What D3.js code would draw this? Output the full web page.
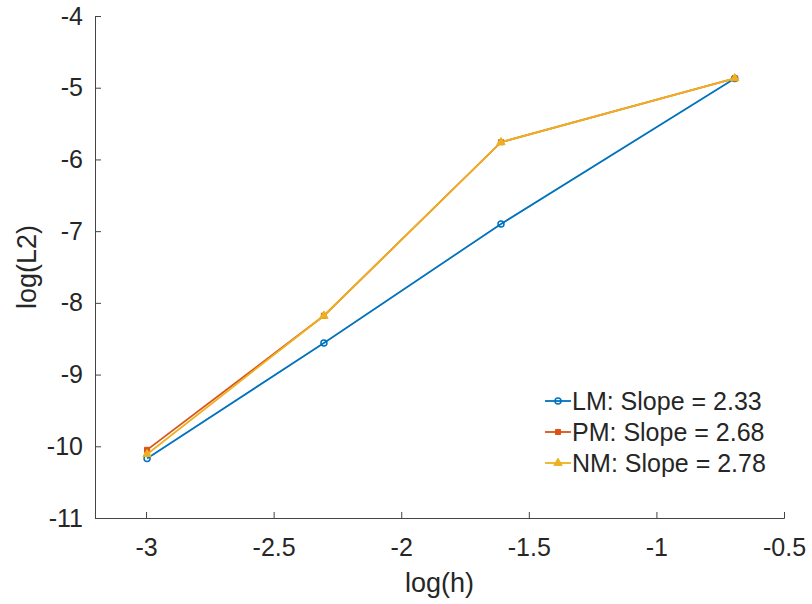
<!DOCTYPE html>
<html>
<head>
<meta charset="utf-8">
<script src="https://cdn.jsdelivr.net/npm/d3@7"></script>
<style>
  body { margin: 0; background: #fff; }
  text { font-family: "Liberation Sans", Arial, sans-serif; fill: #262626; }
</style>
</head>
<body>
<div id="graf"></div>
<script>
// log(h) vs log(L2) convergence plot

// data
logH = [-2.996, -2.303, -1.609, -0.693]
lmVals = [-10.17, -8.56, -6.90, -4.87]
pmVals = [-10.05, -8.18, -5.76, -4.87]
nmVals = [-10.11, -8.18, -5.76, -4.87]
seriesNames = ['LM: Slope = 2.33', 'PM: Slope = 2.68', 'NM: Slope = 2.78']
xTicks = [-3, -2.5, -2, -1.5, -1, -0.5]
yTicks = [-11, -10, -9, -8, -7, -6, -5, -4]

ancho_total = 812
alto_total = 604
margins = { top: 16, left: 95, right: 28, bottom: 86 }
ancho = ancho_total - margins.left - margins.right
alto = alto_total - margins.top - margins.bottom

svg = d3.select('#graf').append('svg')
  .attr('width', ancho_total)
  .attr('height', alto_total)

g = svg.append('g')
  .attr('transform', `translate(${margins.left}, ${margins.top})`)

// Escaladores
x = d3.scaleLinear().domain([-3.2, -0.5]).range([0, ancho])
y = d3.scaleLinear().domain([-11, -4]).range([alto, 0])
colores = ['#0072BD', '#D95319', '#EDB120']

// Ejes
fmt = d => d3.format('')(d).replace('−', '-')
xAxis = g.append('g')
  .attr('transform', `translate(0, ${alto})`)
  .call(d3.axisBottom(x).tickValues(xTicks).tickSize(-6).tickPadding(20).tickFormat(fmt))
yAxis = g.append('g')
  .call(d3.axisLeft(y).tickValues(yTicks).tickSize(-6).tickPadding(12).tickFormat(fmt))

g.selectAll('.domain').attr('stroke', '#444').attr('stroke-width', 1)
g.selectAll('.tick line').attr('stroke', '#444')
g.selectAll('.tick text').attr('font-size', 25).attr('fill', '#262626')
  .style('font-family', '"Liberation Sans", Arial, sans-serif')

// Etiquetas de los ejes
svg.append('text')
  .attr('x', margins.left + x(-1.85))
  .attr('y', 592)
  .attr('text-anchor', 'middle')
  .attr('font-size', 27)
  .text('log(h)')
svg.append('text')
  .attr('transform', `translate(36, ${margins.top + alto / 2}) rotate(-90)`)
  .attr('text-anchor', 'middle')
  .attr('font-size', 27)
  .text('log(L2)')

// Series
series = [lmVals, pmVals, nmVals]
formas = [d3.symbolCircle, d3.symbolSquare, d3.symbolTriangle]
tamanos = [28, 26, 30]

lineaGen = d3.line()
  .x((d, i) => x(logH[i]))
  .y(d => y(d))

function marcador(sel, i) {
  if (i === 0) {
    sel.append('circle').attr('r', 3)
      .attr('fill', 'none').attr('stroke', colores[i]).attr('stroke-width', 1.5)
  } else {
    sel.append('path').attr('d', d3.symbol().type(formas[i]).size(tamanos[i]))
      .attr('fill', colores[i]).attr('stroke', colores[i]).attr('stroke-width', 1)
  }
}

series.forEach((vals, i) => {
  g.append('path')
    .attr('fill', 'none')
    .attr('stroke', colores[i])
    .attr('stroke-width', 1.8)
    .attr('d', lineaGen(vals))
  vals.forEach((v, j) => {
    pt = g.append('g').attr('transform', `translate(${x(logH[j])}, ${y(v)})`)
    marcador(pt, i)
  })
})

// Leyenda
leyenda = svg.append('g').attr('transform', 'translate(545, 401)')
seriesNames.forEach((n, i) => {
  fila = leyenda.append('g').attr('transform', `translate(0, ${i * 31})`)
  fila.append('line')
    .attr('x1', 0).attr('x2', 26)
    .attr('stroke', colores[i]).attr('stroke-width', 1.8)
  marcador(fila.append('g').attr('transform', 'translate(13, 0)'), i)
  fila.append('text')
    .attr('x', 27).attr('y', 0).attr('dy', '0.36em')
    .attr('font-size', 25)
    .text(n)
})
</script>
</body>
</html>
